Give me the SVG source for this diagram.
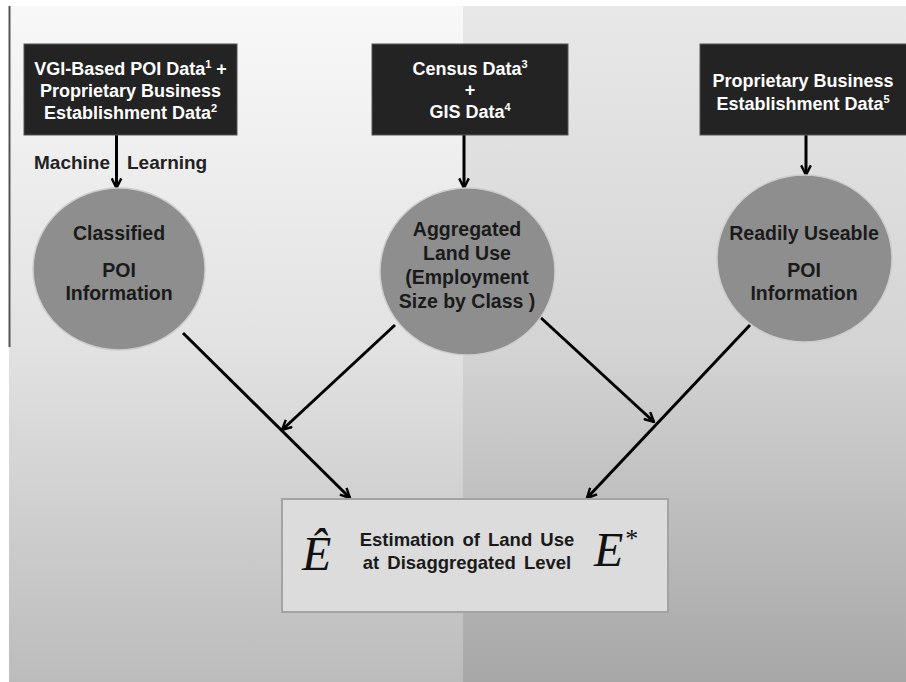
<svg xmlns="http://www.w3.org/2000/svg" width="906" height="682" viewBox="0 0 906 682">
<defs>
<linearGradient id="gl" x1="0" y1="0" x2="0" y2="1">
<stop offset="0" stop-color="#f8f8f8"/>
<stop offset="0.5" stop-color="#e2e2e2"/>
<stop offset="1" stop-color="#bcbcbc"/>
</linearGradient>
<linearGradient id="gr" x1="0" y1="0" x2="0" y2="1">
<stop offset="0" stop-color="#e8e8e8"/>
<stop offset="0.5" stop-color="#d4d4d4"/>
<stop offset="1" stop-color="#a7a7a7"/>
</linearGradient>
<marker id="ah" viewBox="0 0 10 10" refX="9" refY="5" markerWidth="12" markerHeight="12" markerUnits="userSpaceOnUse" orient="auto">
<path d="M1,1 L9,5 L1,9" fill="none" stroke="#000" stroke-width="2"/>
</marker>
<style>
.box{fill:#232323;stroke:#555;stroke-width:1}
.bt{font-family:"Liberation Sans",Arial,sans-serif;font-weight:bold;font-size:18px;fill:#fff;text-anchor:middle}
.sup{font-size:11px}
.circ{fill:#8e8e8e;stroke:#cdcdcd;stroke-width:1.5}
.ct{font-family:"Liberation Sans",Arial,sans-serif;font-weight:bold;font-size:19.5px;fill:#1a1a1a;text-anchor:middle}
.lbl{font-family:"Liberation Sans",Arial,sans-serif;font-weight:bold;font-size:19px;fill:#222}
.con{stroke:#000;stroke-width:3;fill:none;marker-end:url(#ah)}
.math{font-family:"Liberation Serif","Times New Roman",serif;font-style:italic;font-size:48px;fill:#111}
.ot{font-family:"Liberation Sans",Arial,sans-serif;font-weight:bold;font-size:18.5px;fill:#1a1a1a;text-anchor:middle;word-spacing:3px}
</style>
</defs>
<rect x="0" y="0" width="906" height="682" fill="#ffffff"/>
<rect x="9" y="6" width="454" height="676" fill="url(#gl)"/>
<rect x="463" y="6" width="443" height="676" fill="url(#gr)"/>
<line x1="9.5" y1="6" x2="9.5" y2="347" stroke="#555" stroke-width="2"/>

<g id="connectors">
<line class="con" x1="116.5" y1="135" x2="116.5" y2="188"/>
<line class="con" x1="464" y1="135" x2="464" y2="188"/>
<line class="con" x1="806" y1="135" x2="806" y2="175"/>
<line class="con" x1="183" y1="333" x2="350" y2="498"/>
<line class="con" x1="395" y1="325" x2="282" y2="430"/>
<line class="con" x1="540" y1="317" x2="654" y2="422"/>
<line class="con" x1="750" y1="325" x2="587" y2="498"/>
</g>

<g id="src1">
<rect class="box" x="24" y="44" width="213" height="91"/>
<text class="bt" x="130.5" y="75">VGI-Based POI Data<tspan class="sup" dy="-7">1</tspan><tspan dy="7"> +</tspan></text>
<text class="bt" x="130.5" y="97">Proprietary Business</text>
<text class="bt" x="130.5" y="118.5">Establishment Data<tspan class="sup" dy="-7">2</tspan></text>
</g>

<g id="src2">
<rect class="box" x="372" y="44" width="196" height="91"/>
<text class="bt" x="470" y="75">Census Data<tspan class="sup" dy="-7">3</tspan></text>
<text class="bt" x="470" y="96">+</text>
<text class="bt" x="470" y="118">GIS Data<tspan class="sup" dy="-7">4</tspan></text>
</g>

<g id="src3">
<rect class="box" x="700" y="44" width="207" height="91"/>
<text class="bt" x="803" y="87">Proprietary Business</text>
<text class="bt" x="803" y="110">Establishment Data<tspan class="sup" dy="-7">5</tspan></text>
</g>

<g id="ml-label">
<text class="lbl" y="169"><tspan x="34">Machine</tspan><tspan x="127">Learning</tspan></text>
</g>

<g id="classified">
<ellipse class="circ" cx="119" cy="269" rx="86" ry="81"/>
<text class="ct" x="119" y="240">Classified</text>
<text class="ct" x="119" y="277">POI</text>
<text class="ct" x="119" y="300">Information</text>
</g>

<g id="aggregated">
<ellipse class="circ" cx="467.5" cy="271.5" rx="87.5" ry="83.5"/>
<text class="ct" x="467" y="236">Aggregated</text>
<text class="ct" x="467" y="259.5">Land Use</text>
<text class="ct" x="467" y="284">(Employment</text>
<text class="ct" x="467" y="308">Size by Class )</text>
</g>

<g id="readily">
<ellipse class="circ" cx="804.5" cy="258.5" rx="87.5" ry="83.5"/>
<text class="ct" x="804" y="240">Readily Useable</text>
<text class="ct" x="804" y="277">POI</text>
<text class="ct" x="804" y="300">Information</text>
</g>

<g id="estimation">
<rect x="282" y="499" width="386" height="113" fill="#dcdcdc" stroke="#a3a3a3" stroke-width="2"/>
<text class="math" x="302" y="570">Ê</text>
<text class="ot" x="467" y="545.5">Estimation of Land Use</text>
<text class="ot" x="467" y="569">at Disaggregated Level</text>
<text class="math" x="594" y="566">E<tspan font-style="normal" font-size="26px" dx="2" dy="-19">*</tspan></text>
</g>
</svg>
